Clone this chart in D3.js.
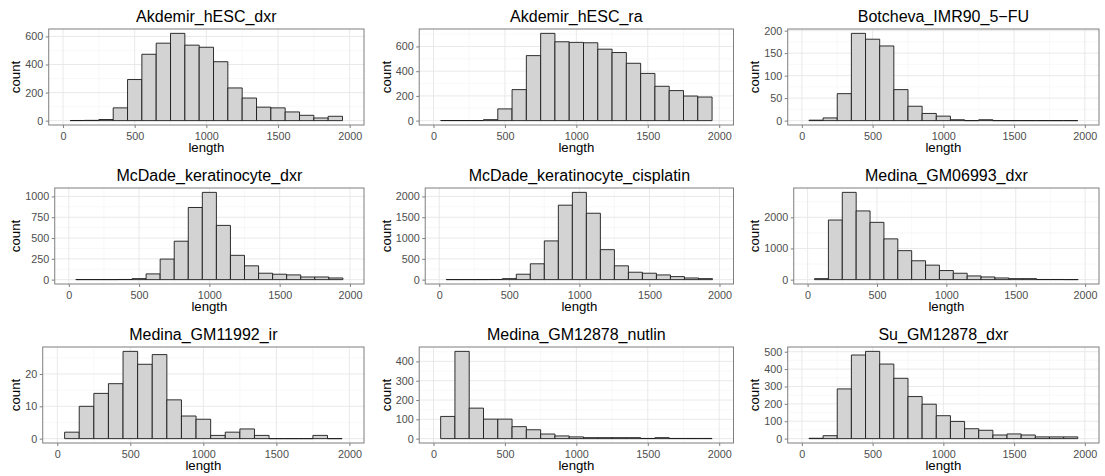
<!DOCTYPE html>
<html lang="en">
<head>
<meta charset="utf-8">
<title>length histograms</title>
<script src="https://d3js.org/d3.v7.min.js"></script>
<style>
  body { margin: 0; background: #fff; }
  svg text { font-family: "Liberation Sans", Arial, sans-serif; }
</style>
</head>
<body>
<svg id="chart" width="1105" height="476"></svg>
<script>
// bins are 100 wide, centred on 100..1900
const binCenters = [100, 200, 300, 400, 500, 600, 700, 800, 900, 1000,
                    1100, 1200, 1300, 1400, 1500, 1600, 1700, 1800, 1900];

const akdemirDxr   = [1, 2, 8, 91, 293, 473, 552, 622, 538, 523, 420, 233, 161, 96, 91, 62, 38, 19, 31];
const akdemirRa    = [1, 1, 1, 8, 95, 251, 526, 706, 638, 633, 630, 578, 551, 464, 382, 278, 243, 199, 191];
const botcheva     = [1, 6, 60, 194, 181, 166, 69, 32, 16, 10, 2, 0, 2, 0, 0, 0, 0, 0, 0];
const mcdadeDxr    = [1, 1, 1, 2, 12, 69, 247, 462, 867, 1049, 652, 292, 166, 77, 65, 57, 32, 32, 20];
const mcdadeCis    = [2, 2, 2, 4, 24, 130, 381, 931, 1790, 2098, 1596, 721, 332, 178, 154, 113, 73, 40, 24];
const medina06993  = [32, 1913, 2800, 2205, 1838, 1308, 930, 605, 465, 292, 205, 119, 86, 54, 32, 32, 5, 5, 2];
const medina11992  = [2, 10, 14, 17, 27, 23, 26, 12, 7, 6, 1, 2, 3, 1, 0, 0, 0, 1, 0];
const medinaNutlin = [115, 452, 158, 101, 101, 62, 46, 24, 14, 9, 5, 5, 5, 5, 1, 5, 1, 1, 1];
const suDxr        = [2, 17, 286, 481, 502, 429, 347, 242, 198, 132, 99, 57, 48, 21, 27, 21, 10, 10, 10];

const titles = ["Akdemir_hESC_dxr", "Akdemir_hESC_ra", "Botcheva_IMR90_5\u2212FU",
                "McDade_keratinocyte_dxr", "McDade_keratinocyte_cisplatin", "Medina_GM06993_dxr",
                "Medina_GM11992_ir", "Medina_GM12878_nutlin", "Su_GM12878_dxr"];
const series = [akdemirDxr, akdemirRa, botcheva, mcdadeDxr, mcdadeCis, medina06993,
                medina11992, medinaNutlin, suDxr];
const yTicks = [[0, 200, 400, 600], [0, 200, 400, 600], [0, 50, 100, 150, 200],
                [0, 250, 500, 750, 1000], [0, 500, 1000, 1500, 2000], [0, 1000, 2000],
                [0, 10, 20], [0, 100, 200, 300, 400], [0, 100, 200, 300, 400, 500]];
const xTicks = [0, 500, 1000, 1500, 2000];
const binWidth = 100;

// grid layout
const cellX = [-2, 368.5, 737];
const panelRight = [364, 733.5, 1099];
const rowY = [0, 159, 318];
const panelTop = 29, panelH = 96;
const tickFont = 10.8;
const fmt = d3.format("d");

let svg = d3.select("#chart");

// measure the widest y label so the panel starts after it
function textWidth(s) {
  let t = svg.append("text").style("font-size", tickFont + "px").text(s);
  let w = t.node().getComputedTextLength();
  t.remove();
  return w;
}

function minorOf(major, dom) {
  let step = major[1] - major[0];
  let out = [];
  for (let v = major[0] - step / 2; v <= dom[1]; v += step) {
    if (v >= dom[0]) out.push(v);
  }
  return out;
}

series.forEach(function (vals, i) {
  let col = i % 3, row = Math.floor(i / 3);
  let labW = d3.max(yTicks[i], d => textWidth(fmt(d)));
  let left = cellX[col] + 32.7 + labW;
  let right = panelRight[col];
  let top = rowY[row] + panelTop;
  let bottom = top + panelH;

  let x = d3.scaleLinear().domain([-100, 2100]).range([left, right]);
  let ymax = d3.max(vals);
  let y = d3.scaleLinear().domain([-0.05 * ymax, 1.05 * ymax]).range([bottom, top]);

  let g = svg.append("g");

  g.append("rect").attr("x", left).attr("y", top)
    .attr("width", right - left).attr("height", bottom - top)
    .attr("fill", "#fff");

  // minor grid
  g.selectAll(".mx").data(minorOf(xTicks, x.domain())).enter().append("line")
    .attr("x1", d => x(d)).attr("x2", d => x(d)).attr("y1", top).attr("y2", bottom)
    .attr("stroke", "#F3F3F3").attr("stroke-width", 0.6);
  g.selectAll(".my").data(minorOf(yTicks[i], y.domain())).enter().append("line")
    .attr("y1", d => y(d)).attr("y2", d => y(d)).attr("x1", left).attr("x2", right)
    .attr("stroke", "#F3F3F3").attr("stroke-width", 0.6);
  // major grid
  g.selectAll(".gx").data(xTicks).enter().append("line")
    .attr("x1", d => x(d)).attr("x2", d => x(d)).attr("y1", top).attr("y2", bottom)
    .attr("stroke", "#E6E6E6").attr("stroke-width", 0.9);
  g.selectAll(".gy").data(yTicks[i]).enter().append("line")
    .attr("y1", d => y(d)).attr("y2", d => y(d)).attr("x1", left).attr("x2", right)
    .attr("stroke", "#E6E6E6").attr("stroke-width", 0.9);

  // bars (paths so that empty bins still show as a line)
  g.selectAll(".bar").data(vals).enter().append("path")
    .attr("d", function (d, k) {
      let x0 = x(binCenters[k] - binWidth / 2), x1 = x(binCenters[k] + binWidth / 2);
      return "M" + x0 + "," + y(0) + "V" + y(d) + "H" + x1 + "V" + y(0) + "Z";
    })
    .attr("fill", "#D3D3D3")
    .attr("stroke", "#1a1a1a")
    .attr("stroke-width", 0.9);

  // border
  g.append("rect").attr("x", left).attr("y", top)
    .attr("width", right - left).attr("height", bottom - top)
    .attr("fill", "none").attr("stroke", "#7F7F7F").attr("stroke-width", 1);

  // axes
  let ax = g.append("g").attr("transform", "translate(0," + bottom + ")")
    .call(d3.axisBottom(x).tickValues(xTicks).tickFormat(fmt).tickSize(3).tickPadding(4));
  let ay = g.append("g").attr("transform", "translate(" + left + ",0)")
    .call(d3.axisLeft(y).tickValues(yTicks[i]).tickFormat(fmt).tickSize(3).tickPadding(2.5));
  [ax, ay].forEach(function (a) {
    a.select(".domain").remove();
    a.selectAll("line").attr("stroke", "#7F7F7F");
    a.selectAll("text").attr("fill", "#4D4D4D")
      .style("font-size", tickFont + "px")
      .style("font-family", "'Liberation Sans', Arial, sans-serif");
  });

  // titles
  g.append("text").attr("x", (left + right) / 2).attr("y", top - 7)
    .attr("text-anchor", "middle").style("font-size", "16px").text(titles[i]);
  g.append("text").attr("x", (left + right) / 2).attr("y", bottom + 27)
    .attr("text-anchor", "middle").style("font-size", "13.2px").text("length");
  g.append("text")
    .attr("transform", "translate(" + (cellX[col] + 22) + "," + ((top + bottom) / 2) + ") rotate(-90)")
    .attr("text-anchor", "middle").style("font-size", "13.2px").text("count");
});
</script>
</body>
</html>
